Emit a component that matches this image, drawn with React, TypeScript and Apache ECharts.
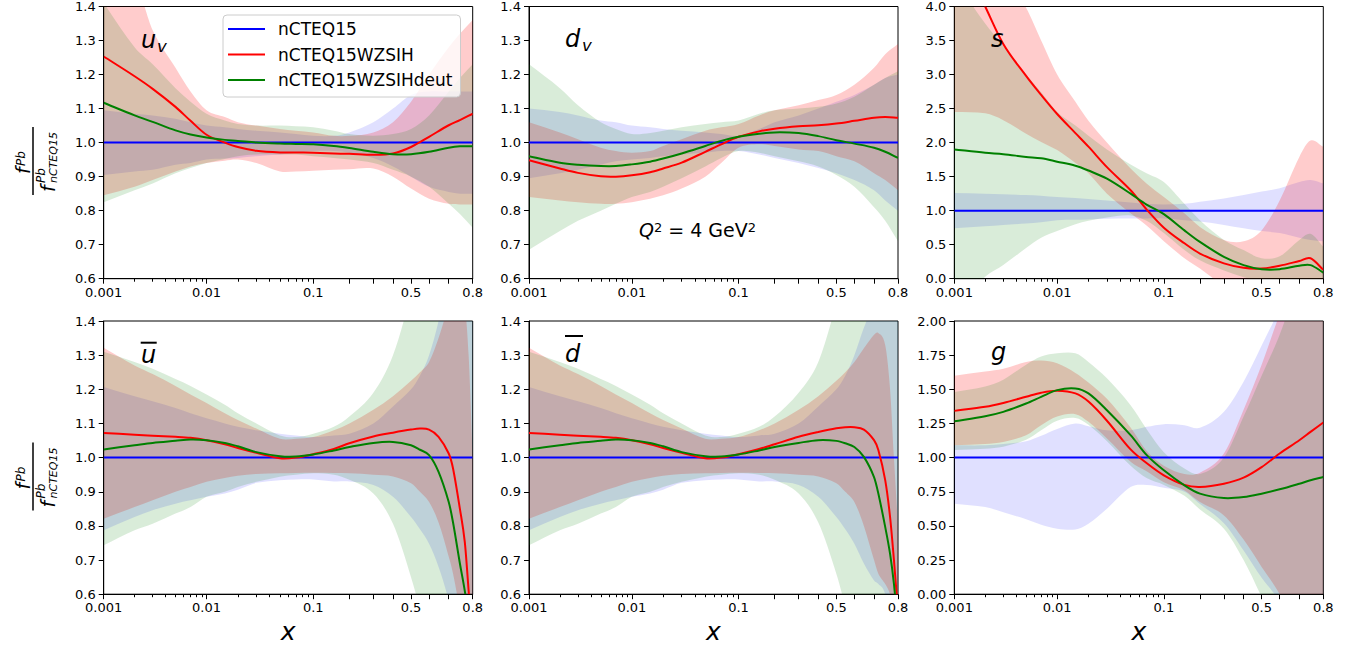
import React, { useEffect, useRef } from "react";
import * as echarts from "echarts";

// ---------- x grids (momentum fraction) ----------
const X_STD = [0.001, 0.002, 0.003, 0.005, 0.007, 0.01, 0.015, 0.02, 0.03, 0.05, 0.07, 0.1, 0.15, 0.2, 0.3, 0.4, 0.5, 0.6, 0.7, 0.75, 0.8];
const X_SEA = [0.001, 0.002, 0.003, 0.005, 0.007, 0.01, 0.015, 0.02, 0.03, 0.05, 0.07, 0.1, 0.15, 0.2, 0.3, 0.4, 0.5, 0.55, 0.6, 0.65, 0.7, 0.72, 0.75, 0.77, 0.785, 0.8];
const X_REF = [0.001, 0.8];
const NCTEQ15_REF = [1.0, 1.0];

// ---------- tick values ----------
const LABEL_X = [0.001, 0.01, 0.1, 0.5, 0.8];
const MAJOR_TICKS = [0.001, 0.01, 0.1, 0.2, 0.3, 0.4, 0.5, 0.6, 0.7, 0.8];
const MINOR_TICKS = [0.002, 0.003, 0.004, 0.005, 0.006, 0.007, 0.008, 0.009, 0.02, 0.03, 0.04, 0.05, 0.06, 0.07, 0.08, 0.09];

// ---------- u_v ----------
const UV_RED = [1.253, 1.195, 1.158, 1.105, 1.064, 1.023, 1.0, 0.987, 0.976, 0.971, 0.971, 0.97, 0.968, 0.967, 0.964, 0.968, 0.987, 1.017, 1.051, 1.066, 1.085];
const UV_GREEN = [1.117, 1.08, 1.061, 1.036, 1.024, 1.015, 1.008, 1.005, 1.0, 0.997, 0.996, 0.995, 0.99, 0.984, 0.973, 0.966, 0.966, 0.973, 0.985, 0.989, 0.989];
const UV_RED_LO = [0.845, 0.87, 0.89, 0.915, 0.93, 0.94, 0.947, 0.95, 0.94, 0.915, 0.915, 0.917, 0.92, 0.922, 0.924, 0.9, 0.865, 0.835, 0.82, 0.818, 0.818];
const UV_RED_HI = [1.55, 1.48, 1.33, 1.22, 1.15, 1.095, 1.075, 1.06, 1.05, 1.04, 1.035, 1.03, 1.02, 1.02, 1.03, 1.06, 1.12, 1.2, 1.28, 1.32, 1.36];
const UV_GREEN_LO = [0.825, 0.86, 0.88, 0.91, 0.925, 0.94, 0.952, 0.96, 0.965, 0.965, 0.965, 0.96, 0.955, 0.95, 0.94, 0.92, 0.9, 0.87, 0.82, 0.79, 0.75];
const UV_GREEN_HI = [1.41, 1.28, 1.23, 1.16, 1.12, 1.085, 1.065, 1.055, 1.05, 1.05, 1.048, 1.045, 1.035, 1.025, 1.02, 1.025, 1.04, 1.08, 1.15, 1.19, 1.23];
const UV_BLUE_LO = [0.905, 0.915, 0.92, 0.935, 0.94, 0.95, 0.953, 0.955, 0.96, 0.965, 0.97, 0.975, 0.975, 0.97, 0.955, 0.93, 0.9, 0.87, 0.855, 0.85, 0.85];
const UV_BLUE_HI = [1.095, 1.085, 1.08, 1.07, 1.06, 1.05, 1.045, 1.04, 1.035, 1.03, 1.025, 1.02, 1.02, 1.03, 1.06, 1.1, 1.14, 1.15, 1.15, 1.15, 1.15];

// ---------- d_v ----------
const DV_RED = [0.948, 0.924, 0.911, 0.901, 0.9, 0.904, 0.913, 0.924, 0.941, 0.973, 0.995, 1.017, 1.033, 1.041, 1.048, 1.051, 1.056, 1.064, 1.073, 1.075, 1.073];
const DV_GREEN = [0.96, 0.941, 0.935, 0.931, 0.931, 0.936, 0.944, 0.953, 0.968, 0.99, 1.005, 1.017, 1.026, 1.03, 1.028, 1.019, 1.007, 0.997, 0.985, 0.973, 0.955];
const DV_RED_LO = [0.84, 0.83, 0.825, 0.82, 0.82, 0.825, 0.835, 0.845, 0.865, 0.9, 0.94, 0.985, 0.995, 0.99, 0.98, 0.975, 0.96, 0.945, 0.91, 0.89, 0.86];
const DV_RED_HI = [1.06, 1.03, 1.01, 0.985, 0.975, 0.97, 0.975, 0.99, 1.01, 1.035, 1.045, 1.055, 1.08, 1.095, 1.11, 1.125, 1.14, 1.17, 1.22, 1.26, 1.29];
const DV_GREEN_LO = [0.685, 0.74, 0.77, 0.8, 0.82, 0.84, 0.855, 0.87, 0.895, 0.93, 0.955, 0.975, 0.97, 0.96, 0.945, 0.93, 0.905, 0.87, 0.81, 0.77, 0.71];
const DV_GREEN_HI = [1.23, 1.16, 1.11, 1.06, 1.04, 1.025, 1.028, 1.035, 1.045, 1.055, 1.06, 1.065, 1.085, 1.095, 1.1, 1.105, 1.115, 1.135, 1.17, 1.19, 1.21];
const DV_BLUE_LO = [0.895, 0.91, 0.92, 0.935, 0.945, 0.95, 0.955, 0.96, 0.965, 0.97, 0.975, 0.975, 0.965, 0.955, 0.94, 0.925, 0.91, 0.89, 0.86, 0.83, 0.8];
const DV_BLUE_HI = [1.1, 1.09, 1.08, 1.065, 1.06, 1.05, 1.045, 1.04, 1.035, 1.03, 1.025, 1.02, 1.04, 1.06, 1.08, 1.1, 1.12, 1.14, 1.17, 1.19, 1.2];

// ---------- s ----------
const S_RED = [4.95, 4.0, 3.45, 2.98, 2.7, 2.42, 2.14, 1.94, 1.64, 1.3, 1.02, 0.75, 0.52, 0.37, 0.225, 0.16, 0.15, 0.19, 0.26, 0.3, 0.13];
const S_GREEN = [1.9, 1.85, 1.83, 1.79, 1.77, 1.72, 1.66, 1.59, 1.47, 1.25, 1.09, 0.95, 0.71, 0.54, 0.32, 0.2, 0.14, 0.14, 0.19, 0.2, 0.09];
const S_RED_LO = [2.45, 2.43, 2.33, 2.13, 2.01, 1.89, 1.7, 1.55, 1.25, 0.96, 0.78, 0.55, 0.3, 0.15, -0.1, -0.2, -0.3, -0.3, -0.3, -0.3, -0.3];
const S_RED_HI = [5.6, 5.0, 4.5, 3.98, 3.5, 3.0, 2.6, 2.32, 2.0, 1.62, 1.4, 1.2, 0.96, 0.76, 0.57, 0.55, 0.71, 1.15, 1.79, 2.03, 1.94];
const S_GREEN_LO = [-0.4, 0.03, 0.2, 0.45, 0.6, 0.7, 0.8, 0.85, 0.9, 0.93, 0.85, 0.67, 0.42, 0.27, 0.12, 0.02, -0.05, -0.1, -0.1, -0.1, -0.2];
const S_GREEN_HI = [4.4, 3.75, 3.42, 3.0, 2.74, 2.45, 2.25, 2.1, 1.9, 1.68, 1.55, 1.42, 1.1, 0.86, 0.57, 0.42, 0.3, 0.33, 0.57, 0.66, 0.47];
const S_BLUE_LO = [0.74, 0.77, 0.79, 0.81, 0.83, 0.86, 0.865, 0.87, 0.88, 0.885, 0.885, 0.885, 0.86, 0.84, 0.79, 0.74, 0.7, 0.67, 0.6, 0.57, 0.55];
const S_BLUE_HI = [1.26, 1.25, 1.24, 1.23, 1.22, 1.2, 1.185, 1.17, 1.15, 1.12, 1.1, 1.09, 1.1, 1.13, 1.18, 1.23, 1.28, 1.33, 1.42, 1.45, 1.4];

// ---------- u-bar ----------
const UB_RED = [1.072, 1.067, 1.064, 1.061, 1.058, 1.051, 1.039, 1.028, 1.014, 0.998, 1.0, 1.01, 1.025, 1.042, 1.062, 1.073, 1.082, 1.085, 1.082, 1.061, 1.012, 0.968, 0.85, 0.753, 0.61, 0.45];
const UB_GREEN = [1.024, 1.036, 1.043, 1.049, 1.053, 1.051, 1.043, 1.033, 1.016, 1.004, 1.003, 1.009, 1.021, 1.031, 1.043, 1.046, 1.036, 1.023, 1.007, 0.958, 0.87, 0.81, 0.69, 0.61, 0.53, 0.44];
const UB_RED_LO = [0.821, 0.855, 0.875, 0.9, 0.914, 0.929, 0.94, 0.947, 0.952, 0.954, 0.955, 0.956, 0.955, 0.954, 0.95, 0.945, 0.925, 0.9, 0.87, 0.81, 0.71, 0.66, 0.55, 0.45, 0.35, 0.25];
const UB_RED_HI = [1.322, 1.27, 1.245, 1.21, 1.185, 1.16, 1.13, 1.11, 1.085, 1.055, 1.055, 1.06, 1.08, 1.1, 1.14, 1.18, 1.225, 1.25, 1.28, 1.35, 1.45, 1.5, 1.55, 1.45, 1.3, 1.0];
const UB_GREEN_LO = [0.743, 0.787, 0.806, 0.836, 0.855, 0.885, 0.9, 0.914, 0.929, 0.944, 0.95, 0.954, 0.95, 0.935, 0.895, 0.806, 0.65, 0.55, 0.4, 0.25, 0.1, 0.0, -0.1, -0.2, -0.25, -0.3];
const UB_GREEN_HI = [1.31, 1.28, 1.26, 1.23, 1.21, 1.185, 1.155, 1.13, 1.1, 1.065, 1.06, 1.07, 1.09, 1.12, 1.19, 1.3, 1.48, 1.6, 1.7, 1.85, 2.0, 2.05, 2.1, 2.0, 1.8, 1.5];
const UB_BLUE_LO = [0.787, 0.826, 0.846, 0.865, 0.875, 0.885, 0.895, 0.906, 0.926, 0.934, 0.936, 0.936, 0.93, 0.93, 0.92, 0.885, 0.826, 0.79, 0.748, 0.68, 0.58, 0.5, 0.35, 0.2, 0.1, 0.0];
const UB_BLUE_HI = [1.207, 1.18, 1.165, 1.145, 1.13, 1.115, 1.1, 1.09, 1.08, 1.07, 1.065, 1.06, 1.065, 1.07, 1.1, 1.15, 1.2, 1.24, 1.3, 1.4, 1.55, 1.65, 1.8, 1.9, 2.0, 2.0];

// ---------- d-bar ----------
const DB_RED = [1.072, 1.067, 1.064, 1.061, 1.058, 1.051, 1.039, 1.028, 1.014, 0.998, 1.0, 1.01, 1.025, 1.039, 1.061, 1.075, 1.086, 1.089, 1.089, 1.082, 1.051, 1.022, 0.934, 0.826, 0.7, 0.55];
const DB_GREEN = [1.024, 1.036, 1.043, 1.049, 1.053, 1.051, 1.043, 1.033, 1.016, 1.004, 1.003, 1.009, 1.021, 1.031, 1.043, 1.051, 1.049, 1.042, 1.031, 1.002, 0.943, 0.895, 0.797, 0.718, 0.63, 0.5];
const DB_RED_LO = [0.821, 0.855, 0.875, 0.9, 0.914, 0.929, 0.94, 0.947, 0.952, 0.954, 0.955, 0.956, 0.955, 0.954, 0.95, 0.945, 0.925, 0.9, 0.87, 0.8, 0.7, 0.66, 0.63, 0.6, 0.55, 0.45];
const DB_RED_HI = [1.322, 1.27, 1.245, 1.21, 1.185, 1.16, 1.13, 1.11, 1.085, 1.055, 1.055, 1.06, 1.08, 1.1, 1.14, 1.18, 1.225, 1.25, 1.28, 1.32, 1.36, 1.365, 1.33, 1.2, 1.0, 0.8];
const DB_GREEN_LO = [0.743, 0.787, 0.806, 0.836, 0.855, 0.885, 0.9, 0.914, 0.929, 0.944, 0.95, 0.954, 0.95, 0.935, 0.895, 0.81, 0.66, 0.56, 0.42, 0.27, 0.12, 0.02, -0.1, -0.2, -0.25, -0.3];
const DB_GREEN_HI = [1.31, 1.28, 1.26, 1.23, 1.21, 1.185, 1.155, 1.13, 1.1, 1.065, 1.06, 1.07, 1.09, 1.12, 1.19, 1.28, 1.45, 1.55, 1.65, 1.8, 2.0, 2.05, 2.1, 2.0, 1.8, 1.5];
const DB_BLUE_LO = [0.787, 0.826, 0.846, 0.865, 0.875, 0.885, 0.895, 0.906, 0.926, 0.934, 0.936, 0.936, 0.93, 0.93, 0.92, 0.885, 0.826, 0.79, 0.748, 0.69, 0.64, 0.63, 0.6, 0.5, 0.3, 0.0];
const DB_BLUE_HI = [1.207, 1.18, 1.165, 1.145, 1.13, 1.115, 1.1, 1.09, 1.08, 1.07, 1.065, 1.06, 1.065, 1.07, 1.1, 1.15, 1.2, 1.24, 1.3, 1.38, 1.45, 1.45, 1.5, 1.6, 1.8, 2.0];

// ---------- g ----------
const G_RED = [1.342, 1.372, 1.4, 1.445, 1.475, 1.49, 1.47, 1.41, 1.27, 1.06, 0.96, 0.87, 0.8, 0.785, 0.809, 0.853, 0.93, 1.03, 1.127, 1.188, 1.257];
const G_GREEN = [1.266, 1.303, 1.335, 1.396, 1.445, 1.494, 1.506, 1.47, 1.347, 1.164, 1.02, 0.907, 0.797, 0.736, 0.704, 0.711, 0.736, 0.768, 0.809, 0.834, 0.858];
const G_RED_LO = [1.09, 1.1, 1.115, 1.164, 1.237, 1.3, 1.318, 1.262, 1.14, 0.97, 0.9, 0.82, 0.76, 0.675, 0.577, 0.4, 0.2, 0.0, -0.3, -0.45, -0.6];
const G_RED_HI = [1.6, 1.63, 1.65, 1.7, 1.71, 1.69, 1.62, 1.55, 1.43, 1.22, 1.05, 0.94, 0.88, 0.89, 1.03, 1.35, 1.68, 2.05, 2.4, 2.6, 2.8];
const G_GREEN_LO = [1.055, 1.065, 1.08, 1.13, 1.2, 1.27, 1.29, 1.24, 1.12, 0.94, 0.85, 0.8, 0.72, 0.62, 0.48, 0.25, -0.02, -0.3, -0.7, -0.9, -1.0];
const G_GREEN_HI = [1.48, 1.52, 1.57, 1.68, 1.74, 1.763, 1.763, 1.7, 1.58, 1.384, 1.21, 1.04, 0.92, 0.88, 1.0, 1.3, 1.6, 1.9, 2.3, 2.45, 2.6];
const G_BLUE_LO = [0.663, 0.638, 0.6, 0.548, 0.509, 0.48, 0.474, 0.516, 0.626, 0.785, 0.8, 0.78, 0.75, 0.66, 0.52, 0.32, 0.12, -0.05, -0.3, -0.4, -0.5];
const G_BLUE_HI = [1.09, 1.09, 1.1, 1.12, 1.16, 1.21, 1.25, 1.23, 1.2, 1.2, 1.225, 1.245, 1.237, 1.218, 1.335, 1.555, 1.82, 2.1, 2.5, 2.7, 2.9];

// ---------- panel table ----------
const PANELS = [
  { xs: X_STD, red: UV_RED, green: UV_GREEN, rl: UV_RED_LO, rh: UV_RED_HI, gl: UV_GREEN_LO, gh: UV_GREEN_HI, bl: UV_BLUE_LO, bh: UV_BLUE_HI, yMin: 0.6, yMax: 1.4, yInt: 0.1, dec: 1 },
  { xs: X_STD, red: DV_RED, green: DV_GREEN, rl: DV_RED_LO, rh: DV_RED_HI, gl: DV_GREEN_LO, gh: DV_GREEN_HI, bl: DV_BLUE_LO, bh: DV_BLUE_HI, yMin: 0.6, yMax: 1.4, yInt: 0.1, dec: 1 },
  { xs: X_STD, red: S_RED, green: S_GREEN, rl: S_RED_LO, rh: S_RED_HI, gl: S_GREEN_LO, gh: S_GREEN_HI, bl: S_BLUE_LO, bh: S_BLUE_HI, yMin: 0, yMax: 4, yInt: 0.5, dec: 1 },
  { xs: X_SEA, red: UB_RED, green: UB_GREEN, rl: UB_RED_LO, rh: UB_RED_HI, gl: UB_GREEN_LO, gh: UB_GREEN_HI, bl: UB_BLUE_LO, bh: UB_BLUE_HI, yMin: 0.6, yMax: 1.4, yInt: 0.1, dec: 1 },
  { xs: X_SEA, red: DB_RED, green: DB_GREEN, rl: DB_RED_LO, rh: DB_RED_HI, gl: DB_GREEN_LO, gh: DB_GREEN_HI, bl: DB_BLUE_LO, bh: DB_BLUE_HI, yMin: 0.6, yMax: 1.4, yInt: 0.1, dec: 1 },
  { xs: X_STD, red: G_RED, green: G_GREEN, rl: G_RED_LO, rh: G_RED_HI, gl: G_GREEN_LO, gh: G_GREEN_HI, bl: G_BLUE_LO, bh: G_BLUE_HI, yMin: 0, yMax: 2, yInt: 0.25, dec: 2 },
];

// ---------- styling / layout ----------
const FONT = "DejaVu Sans";
const NAMES: any = { blue: "nCTEQ15", red: "nCTEQ15WZSIH", green: "nCTEQ15WZSIHdeut" };
const LINE_COLORS: any = { blue: "#0000ff", red: "#ff0000", green: "#008000" };
const FILL_COLORS: any = { blue: "rgba(0,0,255,0.12)", red: "rgba(255,0,0,0.2)", green: "rgba(0,128,0,0.15)" };
const LEFTS = [103.7, 529, 954.3];
const TOPS = [5.5, 321];
const PW = 369;
const PH = 273.2;

const logit = (x: number) => Math.log(x / (1 - x));
const X_MIN = logit(0.001);
const X_MAX = logit(0.8);

function xLabelFormatter(v: number) {
  const hit = LABEL_X.find((x) => Math.abs(logit(x) - v) < 1e-6);
  return hit === undefined ? "" : String(hit);
}

// cubic Hermite (x-monotone) path through pixel points
function hermitePath(pts: number[][], start: "M" | "L"): string {
  const n = pts.length;
  const m = pts.map((_, i) => {
    const a = pts[Math.max(0, i - 1)];
    const b = pts[Math.min(n - 1, i + 1)];
    return (b[1] - a[1]) / (b[0] - a[0]);
  });
  let d = `${start}${pts[0][0].toFixed(2)},${pts[0][1].toFixed(2)}`;
  for (let i = 0; i < n - 1; i++) {
    const [x0, y0] = pts[i];
    const [x1, y1] = pts[i + 1];
    const h = (x1 - x0) / 3;
    d += `C${(x0 + h).toFixed(2)},${(y0 + m[i] * h).toFixed(2)} ${(x1 - h).toFixed(2)},${(y1 - m[i + 1] * h).toFixed(2)} ${x1.toFixed(2)},${y1.toFixed(2)}`;
  }
  return d;
}

function clipRect(params: any) {
  const cs = params.coordSys;
  return { type: "rect", shape: { x: cs.x, y: cs.y, width: cs.width, height: cs.height } };
}

function bandSeries(i: number, key: string, xs: number[], lo: number[], hi: number[]) {
  return {
    type: "custom",
    name: `${key}-band-${i}`,
    xAxisIndex: 2 * i,
    yAxisIndex: i,
    clip: true,
    silent: true,
    z: 2,
    data: xs.map((x, k) => [logit(x), lo[k], hi[k]]),
    encode: { x: 0, y: [1, 2] },
    renderItem: (params: any, api: any) => {
      if (params.dataIndex !== 0) return null;
      const up = xs.map((x, k) => api.coord([logit(x), hi[k]]));
      const dn = xs.map((x, k) => api.coord([logit(x), lo[k]])).reverse();
      const d = hermitePath(up, "M") + hermitePath(dn, "L") + "Z";
      return {
        type: "path",
        shape: { pathData: d },
        style: { fill: FILL_COLORS[key], stroke: "none" },
        clipPath: clipRect(params),
      };
    },
  };
}

function curveSeries(i: number, key: string, xs: number[], ys: number[]) {
  return {
    type: "custom",
    name: `${key}-curve-${i}`,
    xAxisIndex: 2 * i,
    yAxisIndex: i,
    clip: true,
    silent: true,
    z: 3,
    data: xs.map((x, k) => [logit(x), ys[k]]),
    encode: { x: 0, y: 1 },
    renderItem: (params: any, api: any) => {
      if (params.dataIndex !== 0) return null;
      const pts = xs.map((x, k) => api.coord([logit(x), ys[k]]));
      return {
        type: "path",
        shape: { pathData: hermitePath(pts, "M") },
        style: { fill: "none", stroke: LINE_COLORS[key], lineWidth: 2 },
        clipPath: clipRect(params),
      };
    },
  };
}

function legendSeries(key: string) {
  return {
    type: "line",
    name: NAMES[key],
    xAxisIndex: 0,
    yAxisIndex: 0,
    data: [],
    symbol: "none",
    lineStyle: { color: LINE_COLORS[key], width: 2 },
    itemStyle: { color: LINE_COLORS[key] },
  };
}

function txt(text: string, x: number, y: number, size: number, extra: any = {}) {
  return {
    type: "text",
    x,
    y,
    silent: true,
    z: 20,
    style: { text, fontSize: size, fontFamily: FONT, fontStyle: "italic", fill: "#000", align: "left", verticalAlign: "middle", ...extra },
  };
}

function yLabel(cy: number) {
  const it = { fontFamily: FONT, fontStyle: "italic", fill: "#000", align: "left", verticalAlign: "middle" };
  return {
    type: "group",
    x: 33,
    y: cy,
    rotation: Math.PI / 2,
    silent: true,
    z: 20,
    children: [
      { type: "line", shape: { x1: -34, y1: 0, x2: 34, y2: 0 }, style: { stroke: "#000", lineWidth: 1.5 } },
      { type: "text", x: -13, y: -9.6, style: { ...it, text: "f", fontSize: 19 } },
      { type: "text", x: -5, y: -12.4, style: { ...it, text: "Pb", fontSize: 12 } },
      { type: "text", x: -31, y: 15.4, style: { ...it, text: "f", fontSize: 19 } },
      { type: "text", x: -22, y: 7.8, style: { ...it, text: "Pb", fontSize: 12 } },
      { type: "text", x: -22, y: 20.5, style: { ...it, text: "nCTEQ15", fontSize: 11 } },
    ],
  };
}

function buildOption() {
  const grid: any[] = [];
  const xAxis: any[] = [];
  const yAxis: any[] = [];
  const series: any[] = [];
  const tickLabel = { fontFamily: FONT, fontSize: 13, color: "#000" };

  PANELS.forEach((p, i) => {
    grid.push({
      left: LEFTS[i % 3],
      top: TOPS[Math.floor(i / 3)],
      width: PW,
      height: PH,
      show: true,
      borderColor: "#000",
      borderWidth: 1,
      backgroundColor: "rgba(0,0,0,0)",
    });
    xAxis.push({
      gridIndex: i,
      type: "value",
      position: "bottom",
      offset: 0,
      min: X_MIN,
      max: X_MAX,
      axisLine: { show: true, onZero: false, lineStyle: { color: "#000", width: 1 } },
      axisTick: { show: true, customValues: MAJOR_TICKS.map(logit), length: 5, lineStyle: { color: "#000", width: 1 } },
      axisLabel: { show: true, customValues: LABEL_X.map(logit), formatter: xLabelFormatter, margin: 7, ...tickLabel },
      splitLine: { show: false },
    });
    xAxis.push({
      gridIndex: i,
      type: "value",
      position: "bottom",
      offset: 0,
      min: X_MIN,
      max: X_MAX,
      axisLine: { show: false, onZero: false },
      axisTick: { show: true, customValues: MINOR_TICKS.map(logit), length: 3, lineStyle: { color: "#000", width: 1 } },
      axisLabel: { show: false },
      splitLine: { show: false },
    });
    yAxis.push({
      gridIndex: i,
      type: "value",
      min: p.yMin,
      max: p.yMax,
      interval: p.yInt,
      axisLine: { show: true, onZero: false, lineStyle: { color: "#000", width: 1 } },
      axisTick: { show: true, length: 5, lineStyle: { color: "#000", width: 1 } },
      axisLabel: { margin: 8, formatter: (v: number) => v.toFixed(p.dec), ...tickLabel },
      splitLine: { show: false },
    });

    series.push(bandSeries(i, "blue", p.xs, p.bl, p.bh));
    series.push(bandSeries(i, "red", p.xs, p.rl, p.rh));
    series.push(bandSeries(i, "green", p.xs, p.gl, p.gh));
    series.push(curveSeries(i, "blue", X_REF, NCTEQ15_REF));
    series.push(curveSeries(i, "red", p.xs, p.red));
    series.push(curveSeries(i, "green", p.xs, p.green));
  });
  series.push(legendSeries("blue"), legendSeries("red"), legendSeries("green"));

  const centers = LEFTS.map((l) => l + PW / 2);
  const graphic: any[] = [
    txt("u", 141, 39.7, 24),
    txt("v", 157, 46.5, 16.5),
    txt("d", 565, 38.7, 24),
    txt("v", 582, 45.5, 16.5),
    txt("s", 991, 38.7, 24),
    txt("u", 141, 354.7, 24),
    { type: "line", silent: true, z: 20, shape: { x1: 140.7, y1: 342.7, x2: 156.7, y2: 342.7 }, style: { stroke: "#000", lineWidth: 2 } },
    txt("d", 565, 353.7, 24),
    { type: "line", silent: true, z: 20, shape: { x1: 565, y1: 336, x2: 583, y2: 336 }, style: { stroke: "#000", lineWidth: 2 } },
    txt("g", 991, 351.7, 24),
    {
      type: "text",
      x: 639,
      y: 230.4,
      silent: true,
      z: 20,
      style: {
        text: "{q|Q}{p|2}{n| = 4 GeV}{p|2}",
        align: "left",
        verticalAlign: "middle",
        rich: {
          q: { fontFamily: FONT, fontStyle: "italic", fontSize: 19, lineHeight: 19, fill: "#000" },
          n: { fontFamily: FONT, fontSize: 19, lineHeight: 19, fill: "#000" },
          p: { fontFamily: FONT, fontSize: 13, lineHeight: 13, verticalAlign: "top", fill: "#000" },
        },
      },
    },
    ...centers.map((cx) => txt("x", cx, 631, 25, { align: "center" })),
    yLabel(161),
    yLabel(476.5),
  ];

  return {
    animation: false,
    backgroundColor: "#ffffff",
    grid,
    xAxis,
    yAxis,
    series,
    legend: {
      data: [NAMES.blue, NAMES.red, NAMES.green],
      left: 223,
      top: 15,
      orient: "vertical",
      icon: "rect",
      itemWidth: 37,
      itemHeight: 2,
      itemGap: 5.5,
      padding: [4, 8, 7, 5],
      backgroundColor: "rgba(255,255,255,0.8)",
      borderColor: "#cccccc",
      borderWidth: 1,
      borderRadius: 4,
      selectedMode: false,
      z: 10,
      textStyle: { fontFamily: FONT, fontSize: 17, color: "#000", lineHeight: 20, padding: [0, 0, 0, 8] },
    },
    graphic,
  };
}

export default function App() {
  const ref = useRef<HTMLDivElement>(null);
  useEffect(() => {
    const chart = echarts.init(ref.current as HTMLDivElement, null, { renderer: "svg" });
    chart.setOption(buildOption() as any);
    return () => chart.dispose();
  }, []);
  return <div ref={ref} style={{ position: "absolute", left: 0, top: 0, width: 1361, height: 645, background: "#fff" }} />;
}
